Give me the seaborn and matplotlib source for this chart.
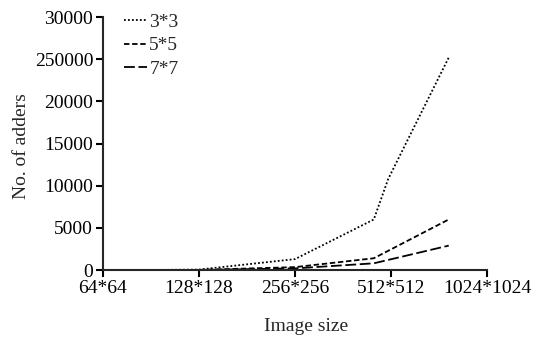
import pandas as pd
import numpy as np
import matplotlib
matplotlib.use("Agg")
import matplotlib.pyplot as plt
import seaborn as sns

# tick categories
sizes = ["64*64", "128*128", "256*256", "512*512", "1024*1024"]
ytick_vals = [0, 5000, 10000, 15000, 20000, 25000, 30000]
ytick_labels = ["0", "5000", "10000", "15000", "20000", "250000", "30000"]

# series (x = position on the category axis)
x_3 = [0.42, 1.0, 2.0, 2.82, 2.97, 3.6]
y_3 = [0, 60, 1300, 6000, 10800, 25200]
x_5 = [0.42, 1.0, 2.0, 2.82, 3.6]
y_5 = [0, 20, 350, 1400, 6000]
x_7 = [0.42, 1.0, 2.0, 2.82, 3.6]
y_7 = [0, 10, 200, 800, 2900]

df = pd.concat([
    pd.DataFrame({"x": x_3, "adders": y_3, "kernel": "3*3"}),
    pd.DataFrame({"x": x_5, "adders": y_5, "kernel": "5*5"}),
    pd.DataFrame({"x": x_7, "adders": y_7, "kernel": "7*7"}),
])

sns.set_style("ticks")
plt.rcParams['font.family'] = ['Liberation Serif', 'DejaVu Serif']
fs = 14

fig = plt.figure(figsize=(5.33, 3.41), dpi=100)
ax = fig.add_axes([0.193, 0.208, 0.721, 0.742])

dashes = {"3*3": (1, 1.2), "5*5": (3, 1.5), "7*7": (6, 2)}
sns.lineplot(data=df, x="x", y="adders", style="kernel", dashes=dashes,
             color="black", linewidth=1.3, ax=ax, sort=False)

ax.set_xlim(0, 4)
ax.set_ylim(0, 30000)
ax.set_xticks(range(len(sizes)))
ax.set_xticklabels(sizes, fontsize=fs)
ax.set_yticks(ytick_vals)
ax.set_yticklabels(ytick_labels, fontsize=fs)
ax.set_xlabel("Image size", fontsize=fs)
ax.set_ylabel("No. of adders", fontsize=fs)
ax.xaxis.set_label_coords(0.53, -0.19)
ax.yaxis.set_label_coords(-0.19, 0.49)

sns.despine(ax=ax)
for s in ["left", "bottom"]:
    ax.spines[s].set_linewidth(1.5)
ax.tick_params(axis="both", direction="out", length=5, width=1.5, pad=2, colors="black")

leg = ax.legend(loc="upper left", bbox_to_anchor=(0.035, 1.045), frameon=False,
                handlelength=1.2, handletextpad=0.1, labelspacing=0.3, fontsize=fs,
                borderaxespad=0)
for h in leg.get_lines():
    h.set_linewidth(1.3)

fig.savefig("out.png", dpi=100)
